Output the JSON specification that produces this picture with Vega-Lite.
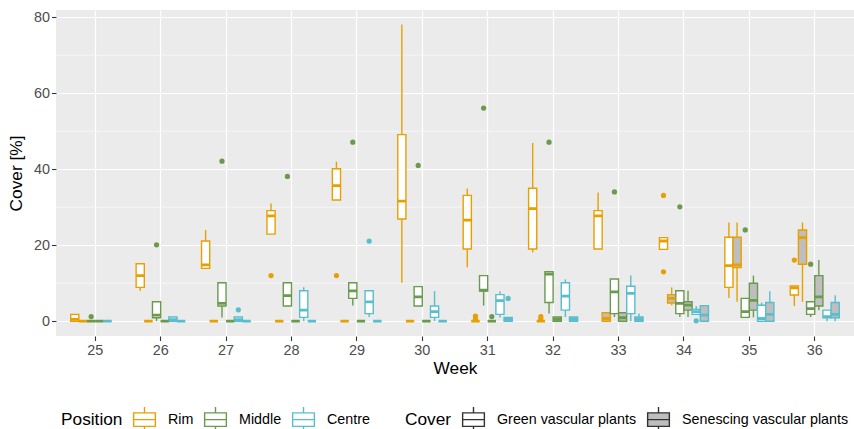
{
  "$schema": "https://vega.github.io/schema/vega-lite/v6.json",
  "width": 798,
  "height": 326,
  "autosize": {"type": "none"},
  "padding": {"left": 56, "top": 10, "right": 0, "bottom": 93},
  "background": "white",
  "config": {
    "font": "Liberation Sans",
    "view": {"fill": "#EBEBEB", "stroke": null},
    "axis": {
      "domain": false,
      "grid": true,
      "gridColor": "#FFFFFF",
      "gridWidth": 1.2,
      "tickColor": "#333333",
      "tickSize": 4.5,
      "tickWidth": 1.1,
      "labelColor": "#4D4D4D",
      "labelFontSize": 14.4,
      "labelPadding": 2,
      "titleFontSize": 17.3,
      "titleFontWeight": "normal",
      "titleColor": "#000000"
    },
    "legend": {
      "orient": "bottom",
      "direction": "horizontal",
      "titleOrient": "left",
      "titleFontSize": 17.3,
      "titleFontWeight": "normal",
      "titleColor": "#000000",
      "titlePadding": 8,
      "labelFontSize": 14.3,
      "labelColor": "#000000",
      "labelLimit": 400,
      "symbolSize": 625,
      "symbolStrokeWidth": 1.4,
      "symbolType": "M0,-1V-0.54M-0.87,-0.54H0.87V0.54H-0.87ZM-0.87,0H0.87M0,0.54V1",
      "columnPadding": 7,
      "labelOffset": 10,
      "offset": 28,
      "layout": {"bottom": {"anchor": "middle", "margin": 35}}
    }
  },
  "datasets": {
    "stats": [
      {"week": 25, "pos": "Rim", "cover": "Green vascular plants", "grp": "Rim Green", "lo": 0, "q1": 0, "med": 0.5, "q3": 1.8, "hi": 1.8},
      {"week": 25, "pos": "Rim", "cover": "Senescing vascular plants", "grp": "Rim Senescing", "lo": 0, "q1": 0, "med": 0, "q3": 0, "hi": 0},
      {"week": 25, "pos": "Middle", "cover": "Green vascular plants", "grp": "Middle Green", "lo": 0, "q1": 0, "med": 0, "q3": 0, "hi": 0},
      {"week": 25, "pos": "Middle", "cover": "Senescing vascular plants", "grp": "Middle Senescing", "lo": 0, "q1": 0, "med": 0, "q3": 0, "hi": 0},
      {"week": 25, "pos": "Centre", "cover": "Green vascular plants", "grp": "Centre Green", "lo": 0, "q1": 0, "med": 0, "q3": 0, "hi": 0},

      {"week": 26, "pos": "Rim", "cover": "Green vascular plants", "grp": "Rim Green", "lo": 8.0, "q1": 8.9, "med": 12.0, "q3": 15.1, "hi": 15.1},
      {"week": 26, "pos": "Rim", "cover": "Senescing vascular plants", "grp": "Rim Senescing", "lo": 0, "q1": 0, "med": 0, "q3": 0, "hi": 0},
      {"week": 26, "pos": "Middle", "cover": "Green vascular plants", "grp": "Middle Green", "lo": 0, "q1": 0.9, "med": 1.6, "q3": 5.1, "hi": 5.1},
      {"week": 26, "pos": "Middle", "cover": "Senescing vascular plants", "grp": "Middle Senescing", "lo": 0, "q1": 0, "med": 0, "q3": 0, "hi": 0},
      {"week": 26, "pos": "Centre", "cover": "Green vascular plants", "grp": "Centre Green", "lo": 0, "q1": 0, "med": 0.4, "q3": 1.1, "hi": 1.1},
      {"week": 26, "pos": "Centre", "cover": "Senescing vascular plants", "grp": "Centre Senescing", "lo": 0, "q1": 0, "med": 0, "q3": 0, "hi": 0},

      {"week": 27, "pos": "Rim", "cover": "Green vascular plants", "grp": "Rim Green", "lo": 13.9, "q1": 13.9, "med": 14.8, "q3": 21.1, "hi": 24.0},
      {"week": 27, "pos": "Rim", "cover": "Senescing vascular plants", "grp": "Rim Senescing", "lo": 0, "q1": 0, "med": 0, "q3": 0, "hi": 0},
      {"week": 27, "pos": "Middle", "cover": "Green vascular plants", "grp": "Middle Green", "lo": 1.0, "q1": 4.0, "med": 4.7, "q3": 10.1, "hi": 10.1},
      {"week": 27, "pos": "Middle", "cover": "Senescing vascular plants", "grp": "Middle Senescing", "lo": 0, "q1": 0, "med": 0, "q3": 0, "hi": 0},
      {"week": 27, "pos": "Centre", "cover": "Green vascular plants", "grp": "Centre Green", "lo": 0, "q1": 0, "med": 0.4, "q3": 1.1, "hi": 1.1},
      {"week": 27, "pos": "Centre", "cover": "Senescing vascular plants", "grp": "Centre Senescing", "lo": 0, "q1": 0, "med": 0, "q3": 0, "hi": 0},

      {"week": 28, "pos": "Rim", "cover": "Green vascular plants", "grp": "Rim Green", "lo": 22.9, "q1": 22.9, "med": 27.7, "q3": 29.1, "hi": 31.0},
      {"week": 28, "pos": "Rim", "cover": "Senescing vascular plants", "grp": "Rim Senescing", "lo": 0, "q1": 0, "med": 0, "q3": 0, "hi": 0},
      {"week": 28, "pos": "Middle", "cover": "Green vascular plants", "grp": "Middle Green", "lo": 4.0, "q1": 4.0, "med": 6.7, "q3": 10.1, "hi": 10.1},
      {"week": 28, "pos": "Middle", "cover": "Senescing vascular plants", "grp": "Middle Senescing", "lo": 0, "q1": 0, "med": 0, "q3": 0, "hi": 0},
      {"week": 28, "pos": "Centre", "cover": "Green vascular plants", "grp": "Centre Green", "lo": 0, "q1": 1.0, "med": 2.9, "q3": 8.0, "hi": 8.9},
      {"week": 28, "pos": "Centre", "cover": "Senescing vascular plants", "grp": "Centre Senescing", "lo": 0, "q1": 0, "med": 0, "q3": 0, "hi": 0},

      {"week": 29, "pos": "Rim", "cover": "Green vascular plants", "grp": "Rim Green", "lo": 31.9, "q1": 31.9, "med": 35.7, "q3": 40.1, "hi": 42.0},
      {"week": 29, "pos": "Rim", "cover": "Senescing vascular plants", "grp": "Rim Senescing", "lo": 0, "q1": 0, "med": 0, "q3": 0, "hi": 0},
      {"week": 29, "pos": "Middle", "cover": "Green vascular plants", "grp": "Middle Green", "lo": 4.1, "q1": 6.0, "med": 8.0, "q3": 10.1, "hi": 10.1},
      {"week": 29, "pos": "Middle", "cover": "Senescing vascular plants", "grp": "Middle Senescing", "lo": 0, "q1": 0, "med": 0, "q3": 0, "hi": 0},
      {"week": 29, "pos": "Centre", "cover": "Green vascular plants", "grp": "Centre Green", "lo": 1.1, "q1": 2.0, "med": 5.1, "q3": 8.0, "hi": 8.0},
      {"week": 29, "pos": "Centre", "cover": "Senescing vascular plants", "grp": "Centre Senescing", "lo": 0, "q1": 0, "med": 0, "q3": 0, "hi": 0},

      {"week": 30, "pos": "Rim", "cover": "Green vascular plants", "grp": "Rim Green", "lo": 10.1, "q1": 26.9, "med": 31.6, "q3": 49.1, "hi": 78.1},
      {"week": 30, "pos": "Rim", "cover": "Senescing vascular plants", "grp": "Rim Senescing", "lo": 0, "q1": 0, "med": 0, "q3": 0, "hi": 0},
      {"week": 30, "pos": "Middle", "cover": "Green vascular plants", "grp": "Middle Green", "lo": 4.0, "q1": 4.0, "med": 6.4, "q3": 9.1, "hi": 9.1},
      {"week": 30, "pos": "Middle", "cover": "Senescing vascular plants", "grp": "Middle Senescing", "lo": 0, "q1": 0, "med": 0, "q3": 0, "hi": 0},
      {"week": 30, "pos": "Centre", "cover": "Green vascular plants", "grp": "Centre Green", "lo": 0, "q1": 1.0, "med": 2.5, "q3": 4.0, "hi": 7.9},
      {"week": 30, "pos": "Centre", "cover": "Senescing vascular plants", "grp": "Centre Senescing", "lo": 0, "q1": 0, "med": 0, "q3": 0, "hi": 0},

      {"week": 31, "pos": "Rim", "cover": "Green vascular plants", "grp": "Rim Green", "lo": 14.2, "q1": 19.0, "med": 26.6, "q3": 33.1, "hi": 34.9},
      {"week": 31, "pos": "Rim", "cover": "Senescing vascular plants", "grp": "Rim Senescing", "lo": 0, "q1": 0, "med": 0, "q3": 0, "hi": 0},
      {"week": 31, "pos": "Middle", "cover": "Green vascular plants", "grp": "Middle Green", "lo": 4.1, "q1": 7.9, "med": 8.2, "q3": 12.0, "hi": 12.0},
      {"week": 31, "pos": "Middle", "cover": "Senescing vascular plants", "grp": "Middle Senescing", "lo": 0, "q1": 0, "med": 0, "q3": 0, "hi": 0},
      {"week": 31, "pos": "Centre", "cover": "Green vascular plants", "grp": "Centre Green", "lo": 1.0, "q1": 1.8, "med": 5.4, "q3": 7.0, "hi": 7.9},
      {"week": 31, "pos": "Centre", "cover": "Senescing vascular plants", "grp": "Centre Senescing", "lo": 0, "q1": 0, "med": 0.5, "q3": 1.0, "hi": 1.0},

      {"week": 32, "pos": "Rim", "cover": "Green vascular plants", "grp": "Rim Green", "lo": 18.1, "q1": 19.0, "med": 29.6, "q3": 35.0, "hi": 46.9},
      {"week": 32, "pos": "Rim", "cover": "Senescing vascular plants", "grp": "Rim Senescing", "lo": 0, "q1": 0, "med": 0, "q3": 0, "hi": 0},
      {"week": 32, "pos": "Middle", "cover": "Green vascular plants", "grp": "Middle Green", "lo": 2.0, "q1": 4.9, "med": 12.4, "q3": 13.0, "hi": 13.0},
      {"week": 32, "pos": "Middle", "cover": "Senescing vascular plants", "grp": "Middle Senescing", "lo": 0, "q1": 0, "med": 0.5, "q3": 1.1, "hi": 1.1},
      {"week": 32, "pos": "Centre", "cover": "Green vascular plants", "grp": "Centre Green", "lo": 1.1, "q1": 2.9, "med": 6.6, "q3": 10.1, "hi": 11.0},
      {"week": 32, "pos": "Centre", "cover": "Senescing vascular plants", "grp": "Centre Senescing", "lo": 0, "q1": 0, "med": 0.5, "q3": 1.1, "hi": 1.1},

      {"week": 33, "pos": "Rim", "cover": "Green vascular plants", "grp": "Rim Green", "lo": 19.0, "q1": 19.0, "med": 27.7, "q3": 29.1, "hi": 33.9},
      {"week": 33, "pos": "Rim", "cover": "Senescing vascular plants", "grp": "Rim Senescing", "lo": 0, "q1": 0, "med": 0.7, "q3": 2.2, "hi": 2.2},
      {"week": 33, "pos": "Middle", "cover": "Green vascular plants", "grp": "Middle Green", "lo": 1.1, "q1": 2.0, "med": 7.7, "q3": 11.1, "hi": 11.1},
      {"week": 33, "pos": "Middle", "cover": "Senescing vascular plants", "grp": "Middle Senescing", "lo": 0, "q1": 0, "med": 0.9, "q3": 2.2, "hi": 2.2},
      {"week": 33, "pos": "Centre", "cover": "Green vascular plants", "grp": "Centre Green", "lo": 0, "q1": 2.0, "med": 7.3, "q3": 9.2, "hi": 12.0},
      {"week": 33, "pos": "Centre", "cover": "Senescing vascular plants", "grp": "Centre Senescing", "lo": 0, "q1": 0, "med": 0.5, "q3": 1.1, "hi": 2.0},

      {"week": 34, "pos": "Rim", "cover": "Green vascular plants", "grp": "Rim Green", "lo": 18.9, "q1": 18.9, "med": 21.1, "q3": 22.0, "hi": 22.0},
      {"week": 34, "pos": "Rim", "cover": "Senescing vascular plants", "grp": "Rim Senescing", "lo": 4.2, "q1": 4.8, "med": 6.0, "q3": 7.0, "hi": 8.9},
      {"week": 34, "pos": "Middle", "cover": "Green vascular plants", "grp": "Middle Green", "lo": 1.1, "q1": 2.0, "med": 4.7, "q3": 8.0, "hi": 8.0},
      {"week": 34, "pos": "Middle", "cover": "Senescing vascular plants", "grp": "Middle Senescing", "lo": 1.1, "q1": 2.9, "med": 4.2, "q3": 5.1, "hi": 8.0},
      {"week": 34, "pos": "Centre", "cover": "Green vascular plants", "grp": "Centre Green", "lo": 1.8, "q1": 1.8, "med": 2.5, "q3": 3.1, "hi": 4.0},
      {"week": 34, "pos": "Centre", "cover": "Senescing vascular plants", "grp": "Centre Senescing", "lo": 0, "q1": 0, "med": 1.6, "q3": 4.1, "hi": 4.1},

      {"week": 35, "pos": "Rim", "cover": "Green vascular plants", "grp": "Rim Green", "lo": 6.1, "q1": 8.9, "med": 14.6, "q3": 22.1, "hi": 26.0},
      {"week": 35, "pos": "Rim", "cover": "Senescing vascular plants", "grp": "Rim Senescing", "lo": 5.1, "q1": 14.1, "med": 14.8, "q3": 22.1, "hi": 26.0},
      {"week": 35, "pos": "Middle", "cover": "Green vascular plants", "grp": "Middle Green", "lo": 1.0, "q1": 1.0, "med": 2.5, "q3": 6.0, "hi": 6.0},
      {"week": 35, "pos": "Middle", "cover": "Senescing vascular plants", "grp": "Middle Senescing", "lo": 1.0, "q1": 2.9, "med": 5.5, "q3": 10.0, "hi": 12.0},
      {"week": 35, "pos": "Centre", "cover": "Green vascular plants", "grp": "Centre Green", "lo": 0, "q1": 0, "med": 0.7, "q3": 4.2, "hi": 4.9},
      {"week": 35, "pos": "Centre", "cover": "Senescing vascular plants", "grp": "Centre Senescing", "lo": 0, "q1": 0, "med": 1.8, "q3": 4.9, "hi": 7.9},

      {"week": 36, "pos": "Rim", "cover": "Green vascular plants", "grp": "Rim Green", "lo": 4.0, "q1": 6.9, "med": 8.8, "q3": 9.3, "hi": 9.3},
      {"week": 36, "pos": "Rim", "cover": "Senescing vascular plants", "grp": "Rim Senescing", "lo": 5.1, "q1": 15.0, "med": 22.0, "q3": 24.0, "hi": 26.0},
      {"week": 36, "pos": "Middle", "cover": "Green vascular plants", "grp": "Middle Green", "lo": 1.1, "q1": 1.8, "med": 3.3, "q3": 5.1, "hi": 5.1},
      {"week": 36, "pos": "Middle", "cover": "Senescing vascular plants", "grp": "Middle Senescing", "lo": 2.9, "q1": 4.0, "med": 6.4, "q3": 12.0, "hi": 16.1},
      {"week": 36, "pos": "Centre", "cover": "Green vascular plants", "grp": "Centre Green", "lo": 0, "q1": 0.9, "med": 1.2, "q3": 2.9, "hi": 2.9},
      {"week": 36, "pos": "Centre", "cover": "Senescing vascular plants", "grp": "Centre Senescing", "lo": 0, "q1": 0.9, "med": 1.8, "q3": 4.9, "hi": 6.8}
    ],
    "outliers": [
      {"week": 25, "pos": "Middle", "grp": "Middle Green", "v": 1.2},
      {"week": 26, "pos": "Middle", "grp": "Middle Green", "v": 20.1},
      {"week": 27, "pos": "Middle", "grp": "Middle Green", "v": 42.1},
      {"week": 27, "pos": "Centre", "grp": "Centre Green", "v": 3.0},
      {"week": 28, "pos": "Rim", "grp": "Rim Green", "v": 12.0},
      {"week": 28, "pos": "Middle", "grp": "Middle Green", "v": 38.1},
      {"week": 29, "pos": "Rim", "grp": "Rim Green", "v": 12.0},
      {"week": 29, "pos": "Middle", "grp": "Middle Green", "v": 47.1},
      {"week": 29, "pos": "Centre", "grp": "Centre Green", "v": 21.1},
      {"week": 30, "pos": "Middle", "grp": "Middle Green", "v": 41.0},
      {"week": 31, "pos": "Rim", "grp": "Rim Senescing", "v": 1.3},
      {"week": 31, "pos": "Rim", "grp": "Rim Senescing", "v": 0.5},
      {"week": 31, "pos": "Middle", "grp": "Middle Green", "v": 56.1},
      {"week": 31, "pos": "Middle", "grp": "Middle Senescing", "v": 1.2},
      {"week": 31, "pos": "Centre", "grp": "Centre Senescing", "v": 6.0},
      {"week": 32, "pos": "Rim", "grp": "Rim Senescing", "v": 1.2},
      {"week": 32, "pos": "Rim", "grp": "Rim Senescing", "v": 0.6},
      {"week": 32, "pos": "Middle", "grp": "Middle Green", "v": 47.1},
      {"week": 33, "pos": "Middle", "grp": "Middle Green", "v": 34.0},
      {"week": 34, "pos": "Rim", "grp": "Rim Green", "v": 33.1},
      {"week": 34, "pos": "Rim", "grp": "Rim Green", "v": 13.0},
      {"week": 34, "pos": "Middle", "grp": "Middle Green", "v": 30.1},
      {"week": 34, "pos": "Centre", "grp": "Centre Green", "v": 0.1},
      {"week": 35, "pos": "Middle", "grp": "Middle Green", "v": 24.0},
      {"week": 36, "pos": "Rim", "grp": "Rim Green", "v": 16.1},
      {"week": 36, "pos": "Middle", "grp": "Middle Green", "v": 15.0}
    ],
    "minor": [{"m": 10}, {"m": 30}, {"m": 50}, {"m": 70}]
  },
  "layer": [
    {
      "data": {"name": "minor"},
      "mark": {"type": "rule", "color": "#FFFFFF", "strokeWidth": 0.6},
      "encoding": {
        "y": {"field": "m", "type": "quantitative", "scale": {"domain": [-3.9, 81.9], "nice": false, "zero": false}, "axis": {"values": [0, 20, 40, 60, 80], "title": "Cover [%]", "titlePadding": 8}}
      }
    },
    {
      "data": {"name": "stats"},
      "mark": {"type": "rule", "strokeWidth": 1.4},
      "encoding": {
        "x": {"field": "week", "type": "ordinal", "scale": {"paddingInner": 0.25, "paddingOuter": 0.225}, "axis": {"title": "Week", "labelAngle": 0, "bandPosition": 0.5, "titlePadding": 3, "labelPadding": 3}},
        "xOffset": {"field": "grp", "type": "nominal", "scale": {"domain": ["Rim Green", "Rim Senescing", "Middle Green", "Middle Senescing", "Centre Green", "Centre Senescing"], "paddingInner": 0, "paddingOuter": 0}},
        "y": {"field": "lo", "type": "quantitative"},
        "y2": {"field": "hi"},
        "stroke": {"field": "pos", "type": "nominal"}
      }
    },
    {
      "data": {"name": "stats"},
      "mark": {"type": "bar", "strokeWidth": 1.4},
      "encoding": {
        "x": {"field": "week", "type": "ordinal"},
        "xOffset": {"field": "grp", "type": "nominal"},
        "y": {"field": "q1", "type": "quantitative"},
        "y2": {"field": "q3"},
        "stroke": {"field": "pos", "type": "nominal", "title": "Position", "scale": {"domain": ["Rim", "Middle", "Centre"], "range": ["#E8A000", "#6A9A4E", "#58BDCC"]}, "legend": {"symbolFillColor": "#FFFFFF"}},
        "fill": {"field": "cover", "type": "nominal", "title": "Cover", "scale": {"domain": ["Green vascular plants", "Senescing vascular plants"], "range": ["#FFFFFF", "#BEBEBE"]}, "legend": {"symbolStrokeColor": "#333333"}}
      }
    },
    {
      "data": {"name": "stats"},
      "mark": {"type": "bar", "strokeWidth": 2.8, "fill": null},
      "encoding": {
        "x": {"field": "week", "type": "ordinal"},
        "xOffset": {"field": "grp", "type": "nominal"},
        "y": {"field": "med", "type": "quantitative"},
        "y2": {"field": "med"},
        "stroke": {"field": "pos", "type": "nominal"}
      }
    },
    {
      "data": {"name": "outliers"},
      "mark": {"type": "point", "filled": false, "size": 7, "strokeWidth": 2.6, "opacity": 1},
      "encoding": {
        "x": {"field": "week", "type": "ordinal"},
        "xOffset": {"field": "grp", "type": "nominal"},
        "y": {"field": "v", "type": "quantitative"},
        "stroke": {"field": "pos", "type": "nominal"}
      }
    }
  ]
}
